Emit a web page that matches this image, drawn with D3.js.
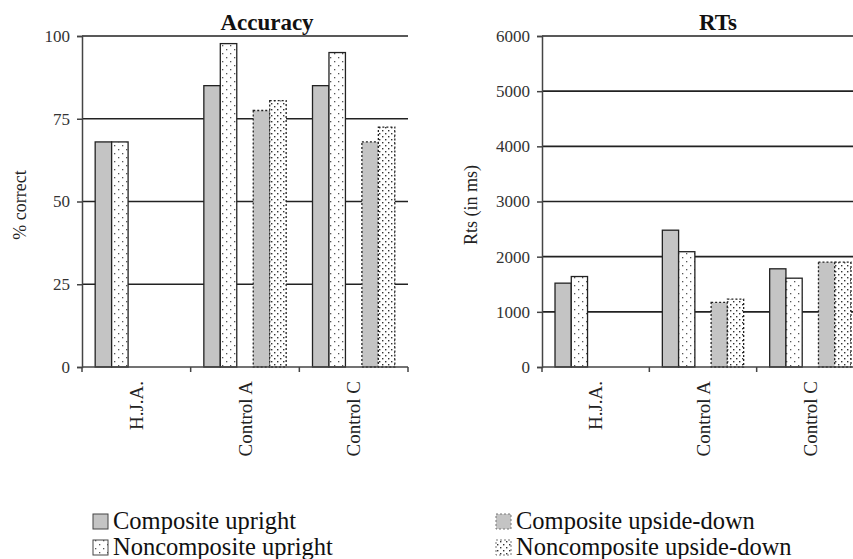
<!DOCTYPE html>
<html>
<head>
<meta charset="utf-8">
<script src="https://cdn.jsdelivr.net/npm/d3@7"></script>
<style>
  body { margin: 0; background: #fff; }
  svg { display: block; font-family: "Liberation Serif", "Times New Roman", serif; }
</style>
</head>
<body>
<div id="chart"></div>
<script>
(function() {
    "use strict";

    // categories and series
    var groups = ["H.J.A.", "Control A", "Control C"];
    var seriesNames = ["Composite upright", "Noncomposite upright", "Composite upside-down", "Noncomposite upside-down"];

    var accCompositeUpright = [68, 85, 85];
    var accNoncompositeUpright = [68, 97.7, 95];
    var accCompositeUpsideDown = [null, 77.5, 68];
    var accNoncompositeUpsideDown = [null, 80.5, 72.5];

    var rtCompositeUpright = [1520, 2480, 1780];
    var rtNoncompositeUpright = [1640, 2090, 1610];
    var rtCompositeUpsideDown = [null, 1170, 1900];
    var rtNoncompositeUpsideDown = [null, 1230, 1900];

    var accTicks = [0, 25, 50, 75, 100];
    var rtTicks = [0, 1000, 2000, 3000, 4000, 5000, 6000];

    var W = 853, H = 559;
    var ink = "#222";
    var serif = "'Liberation Serif', 'Times New Roman', serif";

    var svg = d3.select("#chart").append("svg")
        .attr("width", W)
        .attr("height", H);

    // fill patterns
    var defs = svg.append("defs");
    var sparse = defs.append("pattern")
        .attr("id", "dotsSparse")
        .attr("patternUnits", "userSpaceOnUse")
        .attr("width", 8).attr("height", 8);
    sparse.append("rect").attr("width", 8).attr("height", 8).attr("fill", "#fff");
    sparse.append("rect").attr("x", 2).attr("y", 1).attr("width", 1.3).attr("height", 1.3).attr("fill", "#555");
    sparse.append("rect").attr("x", 6).attr("y", 5).attr("width", 1.3).attr("height", 1.3).attr("fill", "#555");

    var dense = defs.append("pattern")
        .attr("id", "dotsDense")
        .attr("patternUnits", "userSpaceOnUse")
        .attr("width", 6).attr("height", 6);
    dense.append("rect").attr("width", 6).attr("height", 6).attr("fill", "#fff");
    dense.append("rect").attr("x", 1).attr("y", 1).attr("width", 1.4).attr("height", 1.4).attr("fill", "#333");
    dense.append("rect").attr("x", 4).attr("y", 4).attr("width", 1.4).attr("height", 1.4).attr("fill", "#333");

    var styles = [
        { fill: "#c4c4c4", dash: null },
        { fill: "url(#dotsSparse)", dash: null },
        { fill: "#c4c4c4", dash: "2,2" },
        { fill: "url(#dotsDense)", dash: "2,2" }
    ];
    var slotOf = [0, 1, 3, 4];

    function drawPanel(opt) {
        var g = svg.append("g");
        var y = d3.scaleLinear().domain([0, opt.max]).range([367, 36]);
        var x0 = d3.scaleBand().domain(groups).range([opt.left, opt.right]);
        var x1 = d3.scaleBand().domain(d3.range(5)).range([0, x0.bandwidth()]).paddingOuter(0.8);

        // gridlines
        g.append("g").selectAll("line")
            .data(opt.ticks.filter(function(t) { return t > 0; }))
            .join("line")
            .attr("x1", opt.left).attr("x2", opt.right)
            .attr("y1", function(d) { return y(d); })
            .attr("y2", function(d) { return y(d); })
            .attr("stroke", ink)
            .attr("stroke-width", 1.6);

        // bars
        var rows = [];
        opt.series.forEach(function(vals, si) {
            vals.forEach(function(v, gi) {
                if (v != null) rows.push({ s: si, g: groups[gi], v: v });
            });
        });
        g.append("g").selectAll("rect")
            .data(rows)
            .join("rect")
            .attr("x", function(d) { return x0(d.g) + x1(slotOf[d.s]); })
            .attr("width", x1.bandwidth())
            .attr("y", function(d) { return y(d.v); })
            .attr("height", function(d) { return y(0) - y(d.v); })
            .attr("fill", function(d) { return styles[d.s].fill; })
            .attr("stroke", ink)
            .attr("stroke-width", 1.3)
            .attr("stroke-dasharray", function(d) { return styles[d.s].dash; });

        // y axis
        var yAxis = d3.axisLeft(y).tickValues(opt.ticks).tickFormat(d3.format("d")).tickSize(5).tickPadding(7);
        var ya = g.append("g").attr("transform", "translate(" + opt.left + ",0)").call(yAxis)
            .attr("font-family", null).attr("font-size", null);
        ya.select(".domain").attr("stroke", "#444").attr("stroke-width", 1.5);
        ya.selectAll(".tick line").attr("stroke", "#444").attr("stroke-width", 1.5);
        ya.selectAll("text")
            .style("font-family", serif)
            .attr("font-size", 17)
            .attr("fill", "#333");

        // x axis
        var xa = g.append("g").attr("transform", "translate(0,367)");
        xa.append("line")
            .attr("x1", opt.left).attr("x2", opt.right)
            .attr("stroke", "#444").attr("stroke-width", 1.5);
        var bounds = groups.map(function(d) { return x0(d); }).concat([opt.right]);
        xa.selectAll("line.tk")
            .data(bounds)
            .join("line")
            .attr("class", "tk")
            .attr("x1", function(d) { return d; }).attr("x2", function(d) { return d; })
            .attr("y1", 0).attr("y2", 5)
            .attr("stroke", "#444").attr("stroke-width", 1.5);
        xa.selectAll("text")
            .data(groups)
            .join("text")
            .attr("transform", function(d) {
                return "translate(" + (x0(d) + x0.bandwidth() / 2) + ",14) rotate(-90)";
            })
            .attr("dy", "0.35em")
            .attr("text-anchor", "end")
            .attr("font-size", 19)
            .attr("fill", ink)
            .text(function(d) { return d; });

        // titles
        g.append("text")
            .attr("x", opt.titleX).attr("y", 30)
            .attr("text-anchor", "middle")
            .attr("font-size", 23)
            .attr("font-weight", "bold")
            .attr("fill", "#111")
            .text(opt.title);
        g.append("text")
            .attr("transform", "translate(" + opt.labelX + ",205) rotate(-90)")
            .attr("dy", "0.35em")
            .attr("text-anchor", "middle")
            .attr("font-size", 18)
            .attr("fill", ink)
            .text(opt.yLabel);
    }

    drawPanel({
        left: 82, right: 408, max: 100, ticks: accTicks,
        series: [accCompositeUpright, accNoncompositeUpright, accCompositeUpsideDown, accNoncompositeUpsideDown],
        title: "Accuracy", titleX: 267, yLabel: "% correct", labelX: 20
    });

    drawPanel({
        left: 542, right: 864, max: 6000, ticks: rtTicks,
        series: [rtCompositeUpright, rtNoncompositeUpright, rtCompositeUpsideDown, rtNoncompositeUpsideDown],
        title: "RTs", titleX: 718, yLabel: "Rts (in ms)", labelX: 471
    });

    // legend
    var legendPos = [
        { x: 93, y: 529 },
        { x: 93, y: 555 },
        { x: 496, y: 529 },
        { x: 496, y: 555 }
    ];
    var lg = svg.append("g").selectAll("g")
        .data(seriesNames)
        .join("g")
        .attr("transform", function(d, i) { return "translate(" + legendPos[i].x + "," + legendPos[i].y + ")"; });
    lg.append("rect")
        .attr("x", 0).attr("y", -15)
        .attr("width", 15).attr("height", 15)
        .attr("fill", function(d, i) { return styles[i].fill; })
        .attr("stroke", function(d, i) { return i < 2 ? "#444" : "#777"; })
        .attr("stroke-width", 1)
        .attr("stroke-dasharray", function(d, i) { return styles[i].dash; });
    lg.append("text")
        .attr("x", 20)
        .attr("font-size", 24.5)
        .attr("fill", "#111")
        .text(function(d) { return d; });
})();
</script>
</body>
</html>
